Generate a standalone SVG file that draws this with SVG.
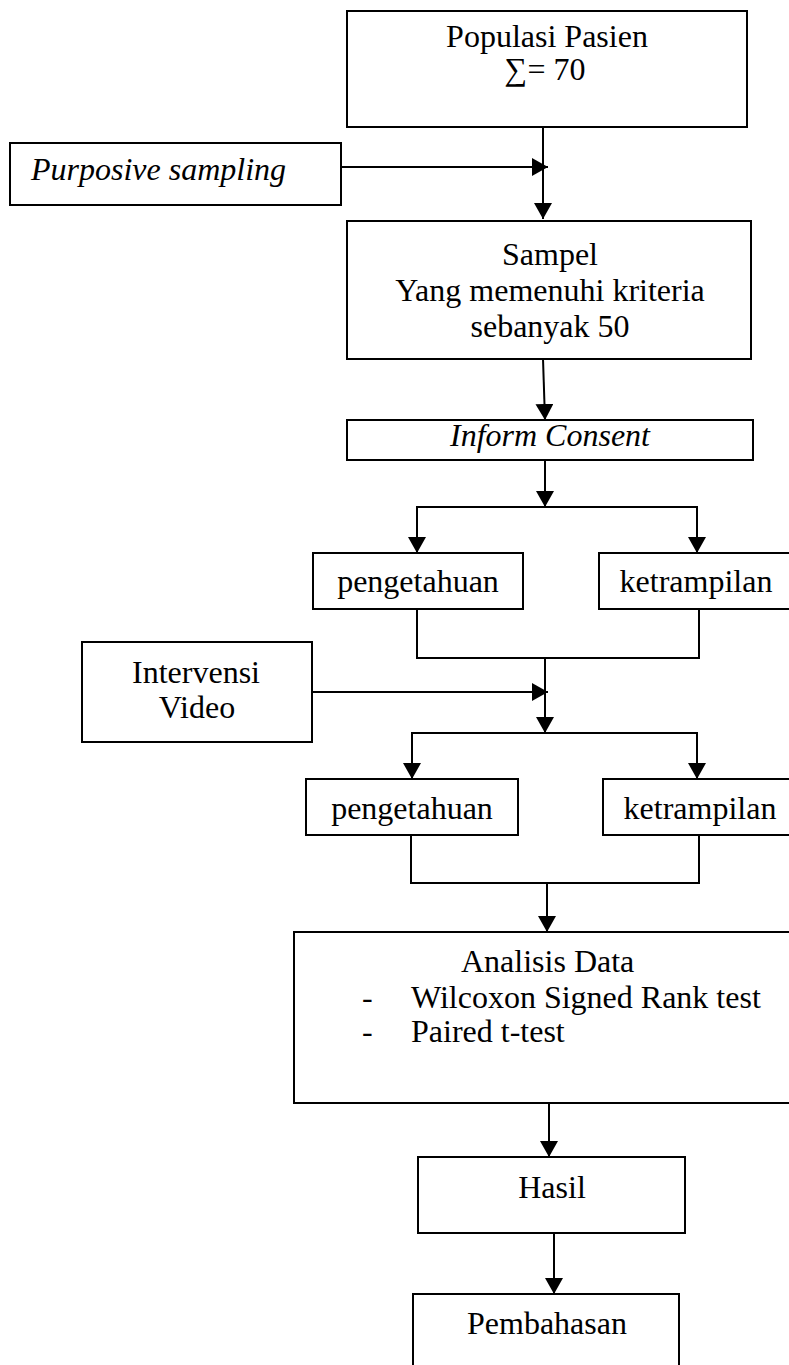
<svg xmlns="http://www.w3.org/2000/svg" width="789" height="1365" viewBox="0 0 789 1365">
<style>
.box{fill:#fff;stroke:#000;stroke-width:2}
.t{font-family:"Liberation Serif","Times New Roman",serif;font-size:32px;fill:#000}
.m{text-anchor:middle}
.i{font-style:italic}
.ln{fill:none;stroke:#000;stroke-width:2}
</style>
<defs>
<marker id="ah" markerWidth="8" markerHeight="9" refX="8" refY="4.5" orient="auto" markerUnits="strokeWidth">
<path d="M0,0 L8,4.5 L0,9 Z" fill="#000"/>
</marker>
</defs>
<rect width="789" height="1365" fill="#fff"/>
<g id="connectors">
<line class="ln" x1="543" y1="127" x2="543" y2="219" marker-end="url(#ah)"/>
<line class="ln" x1="341" y1="167" x2="548" y2="167" marker-end="url(#ah)"/>
<line class="ln" x1="543" y1="359" x2="545" y2="420" marker-end="url(#ah)"/>
<line class="ln" x1="545" y1="460" x2="545" y2="507" marker-end="url(#ah)"/>
<polyline class="ln" points="417,520 417,507 697,507 697,520"/>
<line class="ln" x1="417" y1="520" x2="417" y2="553" marker-end="url(#ah)"/>
<line class="ln" x1="697" y1="520" x2="697" y2="553" marker-end="url(#ah)"/>
<polyline class="ln" points="417,609 417,658 699,658 699,609"/>
<line class="ln" x1="545" y1="658" x2="545" y2="733" marker-end="url(#ah)"/>
<line class="ln" x1="312" y1="692" x2="548" y2="692" marker-end="url(#ah)"/>
<polyline class="ln" points="412,745 412,733 697,733 697,745"/>
<line class="ln" x1="412" y1="745" x2="412" y2="779" marker-end="url(#ah)"/>
<line class="ln" x1="697" y1="745" x2="697" y2="779" marker-end="url(#ah)"/>
<polyline class="ln" points="411,835 411,883 699,883 699,835"/>
<line class="ln" x1="547" y1="883" x2="547" y2="932" marker-end="url(#ah)"/>
<line class="ln" x1="549" y1="1103" x2="549" y2="1157" marker-end="url(#ah)"/>
<line class="ln" x1="554" y1="1233" x2="554" y2="1294" marker-end="url(#ah)"/>
</g>
<g id="populasi">
<rect class="box" x="347" y="11" width="400" height="116"/>
<text class="t m" x="547" y="47" font-size="28">Populasi Pasien</text>
<text class="t m" x="545" y="80" font-size="28">∑= 70</text>
</g>
<g id="purposive">
<rect class="box" x="10" y="143" width="331" height="62"/>
<text class="t i" x="31" y="180" font-size="26">Purposive sampling</text>
</g>
<g id="sampel">
<rect class="box" x="347" y="221" width="404" height="138"/>
<text class="t m" x="550" y="265">Sampel</text>
<text class="t m" x="550" y="301">Yang memenuhi kriteria</text>
<text class="t m" x="550" y="337">sebanyak 50</text>
</g>
<g id="inform">
<rect class="box" x="347" y="420" width="406" height="40"/>
<text class="t m i" x="550" y="446">Inform Consent</text>
</g>
<g id="pengetahuan1">
<rect class="box" x="313" y="553" width="210" height="56"/>
<text class="t m" x="418" y="592">pengetahuan</text>
</g>
<g id="ketrampilan1">
<rect class="box" x="599" y="553" width="200" height="56"/>
<text class="t m" x="696" y="592">ketrampilan</text>
</g>
<g id="intervensi">
<rect class="box" x="82" y="642" width="230" height="100"/>
<text class="t m" x="196" y="683">Intervensi</text>
<text class="t m" x="197" y="718">Video</text>
</g>
<g id="pengetahuan2">
<rect class="box" x="306" y="779" width="212" height="56"/>
<text class="t m" x="412" y="819">pengetahuan</text>
</g>
<g id="ketrampilan2">
<rect class="box" x="603" y="779" width="200" height="56"/>
<text class="t m" x="700" y="819">ketrampilan</text>
</g>
<g id="analisis">
<rect class="box" x="294" y="932" width="510" height="171"/>
<text class="t" x="461" y="972">Analisis Data</text>
<text class="t" x="362" y="1008">-</text>
<text class="t" x="411" y="1008">Wilcoxon Signed Rank test</text>
<text class="t" x="362" y="1042">-</text>
<text class="t" x="411" y="1042">Paired t-test</text>
</g>
<g id="hasil">
<rect class="box" x="418" y="1157" width="267" height="76"/>
<text class="t m" x="552" y="1198">Hasil</text>
</g>
<g id="pembahasan">
<rect class="box" x="413" y="1294" width="266" height="90"/>
<text class="t m" x="547" y="1334">Pembahasan</text>
</g>
</svg>
